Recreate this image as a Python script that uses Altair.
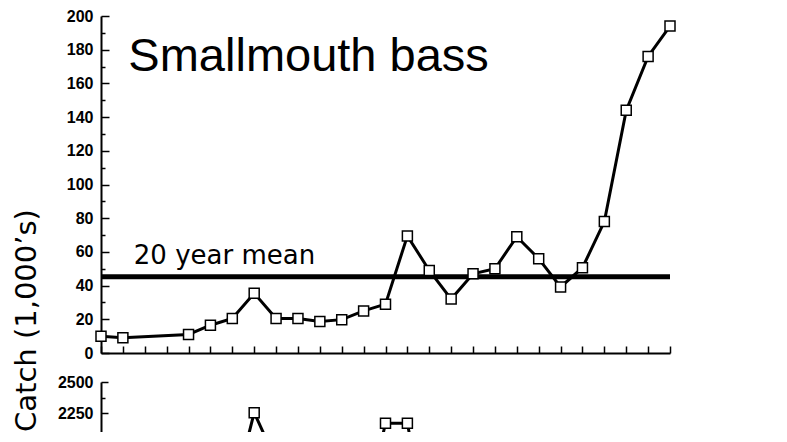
import altair as alt
import pandas as pd

# ---- data ----
years = list(range(1970, 1997))  # x tick positions (27 years)

sm_years = [1970, 1971, 1974, 1975, 1976, 1977, 1978, 1979, 1980, 1981, 1982, 1983,
            1984, 1985, 1986, 1987, 1988, 1989, 1990, 1991, 1992, 1993, 1994, 1995, 1996]
sm_catch = [10, 9, 11, 16.5, 20.5, 35.5, 20.5, 20.5, 18.7, 19.8, 25, 29,
            69.5, 49, 32, 47, 50, 69, 56, 39.2, 50.6, 78, 144, 176, 194]
sm_mean = [45.2]

lower_years = [1976, 1977, 1978, 1982, 1983, 1984, 1985]
lower_catch = [1560, 2255, 1870, 1400, 2170, 2170, 1250]

top_ticks = list(range(0, 201, 20))
top_minor = list(range(10, 200, 20))
low_ticks = [2000, 2250, 2500]
low_major = [2250, 2500]
low_minor = [2375]

title_text = ["Smallmouth bass"]
title_x = [1971.25]
title_y = [167.5]
mean_text = ["20 year mean"]
mean_x = [1971.5]
mean_y = [53]

W = 569
H_TOP = 337
H_LOW = 50

LABEL_FONT = "Liberation Sans"

df_top = pd.DataFrame({"year": sm_years, "catch": sm_catch})
df_mean = pd.DataFrame({"mean": sm_mean})
df_low = pd.DataFrame({"year": lower_years, "catch": lower_catch})
df_title = pd.DataFrame({"text": title_text, "x": title_x, "y": title_y})
df_mtext = pd.DataFrame({"text": mean_text, "x": mean_x, "y": mean_y})

xscale = alt.Scale(domain=[1970, 1996], nice=False, zero=False)
yscale_top = alt.Scale(domain=[0, 200], nice=False)
yscale_low = alt.Scale(domain=[2100, 2500], nice=False)

left_axis_common = dict(orient="left", ticks=False, tickSize=0, labelPadding=8, format="d",
                        labelFont=LABEL_FONT, labelFontSize=16, labelFontWeight="bold",
                        labelColor="black", domainColor="black", domainWidth=2,
                        grid=False, title=None)


def tick_axis(vals, size):
    return alt.Axis(orient="right", offset=-W, values=vals, tickSize=size, tickWidth=1.5,
                    tickColor="black", labels=False, domain=False, grid=False, title=None)


# ---- top panel ----
top_line = alt.Chart(df_top).mark_line(color="black", strokeWidth=3).encode(
    x=alt.X("year:Q", scale=xscale,
            axis=alt.Axis(orient="bottom", labels=False, ticks=False, tickSize=0,
                          domainColor="black", domainWidth=2, grid=False, title=None)),
    y=alt.Y("catch:Q", scale=yscale_top, axis=alt.Axis(values=top_ticks, **left_axis_common)),
)
top_pts = alt.Chart(df_top).mark_point(shape="square", size=100, filled=True, fill="white",
                                       stroke="black", strokeWidth=1.5, opacity=1).encode(
    x=alt.X("year:Q", scale=xscale,
            axis=alt.Axis(orient="top", offset=-H_TOP, values=years, tickSize=7, tickWidth=1.5,
                          tickColor="black", labels=False, domain=False, grid=False, title=None)),
    y=alt.Y("catch:Q", scale=yscale_top, axis=tick_axis(top_ticks, 8)),
)
top_rule = alt.Chart(df_mean).mark_rule(color="black", strokeWidth=5).encode(
    y=alt.Y("mean:Q", scale=yscale_top, axis=tick_axis(top_minor, 4)),
)
top_title = alt.Chart(df_title).mark_text(align="left", baseline="alphabetic", color="black",
                                          font=LABEL_FONT, fontSize=47).encode(
    x=alt.X("x:Q", scale=xscale, axis=None),
    y=alt.Y("y:Q", scale=yscale_top, axis=None),
    text="text:N",
)
top_mtext = alt.Chart(df_mtext).mark_text(align="left", baseline="alphabetic", color="black",
                                          font="DejaVu Sans", fontSize=26).encode(
    x=alt.X("x:Q", scale=xscale, axis=None),
    y=alt.Y("y:Q", scale=yscale_top, axis=None),
    text="text:N",
)

top = alt.layer(top_rule, top_line, top_pts, top_title, top_mtext).resolve_axis(
    x="independent", y="independent").properties(width=W, height=H_TOP)

# ---- lower panel (cut off in the reference) ----
low_line = alt.Chart(df_low).mark_line(color="black", strokeWidth=3, clip=True).encode(
    x=alt.X("year:Q", scale=xscale, axis=None),
    y=alt.Y("catch:Q", scale=yscale_low, axis=alt.Axis(values=low_ticks, **left_axis_common)),
)
low_pts = alt.Chart(df_low).mark_point(shape="square", size=100, filled=True, fill="white",
                                       stroke="black", strokeWidth=1.5, opacity=1, clip=True).encode(
    x=alt.X("year:Q", scale=xscale, axis=None),
    y=alt.Y("catch:Q", scale=yscale_low, axis=tick_axis(low_major, 7)),
)
low_minor_layer = alt.Chart(df_low).mark_line(opacity=0, clip=True).encode(
    x=alt.X("year:Q", scale=xscale, axis=None),
    y=alt.Y("catch:Q", scale=yscale_low, axis=tick_axis(low_minor, 4)),
)
low = alt.layer(low_minor_layer, low_line, low_pts).resolve_axis(
    x="independent", y="independent").properties(width=W, height=H_LOW)

chart = alt.vconcat(top, low, spacing=13).properties(
    padding={"left": 5, "top": 0, "right": 0, "bottom": 0},
    title=alt.TitleParams("Catch (1,000\u2019s)", orient="left", anchor="start",
                          font="DejaVu Sans", fontSize=29, fontWeight="normal",
                          color="black", offset=15),
).configure_view(stroke=None)

chart.save("out.html", embed_options={"renderer": "svg", "actions": False})
